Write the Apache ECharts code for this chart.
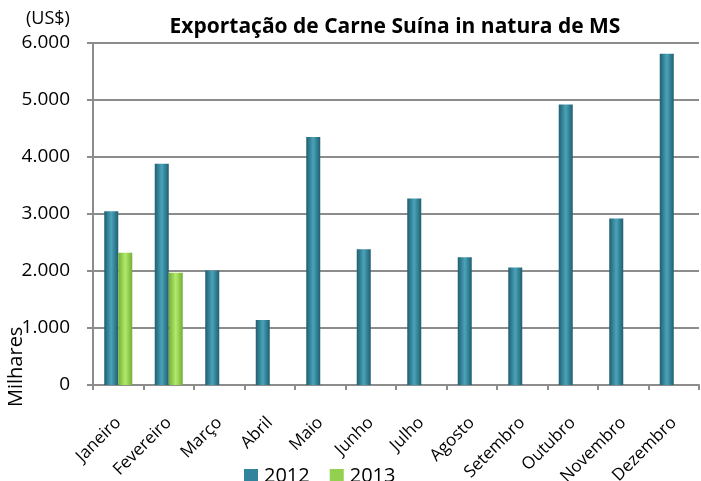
<!DOCTYPE html>
<html>
<head>
<meta charset="utf-8">
<script src="https://cdn.jsdelivr.net/npm/echarts@6/dist/echarts.min.js"></script>
<style>
  html, body { margin: 0; padding: 0; background: #fff; }
  #chart { width: 701px; height: 481px; }
</style>
</head>
<body>
<div id="chart"></div>
<script>
// meses
const months = ["Janeiro", "Fevereiro", "Março", "Abril", "Maio", "Junho",
  "Julho", "Agosto", "Setembro", "Outubro", "Novembro", "Dezembro"];
// valores em milhares de US$
const exp2012 = [3050, 3880, 2010, 1140, 4350, 2380, 3270, 2240, 2060, 4920, 2920, 5810];
const exp2013 = [2320, 1970, null, null, null, null, null, null, null, null, null, null];
const yTicks = [0, 1000, 2000, 3000, 4000, 5000, 6000];

const font = "'Open Sans', 'DejaVu Sans', sans-serif";

function fmt(v) {
  return v === 0 ? "0" : (v / 1000).toFixed(3);
}

// efeito cilindro nas barras
function tube(edge, mid) {
  return new echarts.graphic.LinearGradient(0, 0, 1, 0, [
    { offset: 0, color: edge },
    { offset: 0.5, color: mid },
    { offset: 1, color: edge }
  ]);
}

const chart = echarts.init(document.getElementById("chart"));
chart.setOption({
  animation: false,
  textStyle: { fontFamily: font },
  title: {
    text: "Exportação de Carne Suína in natura de MS",
    left: 390,
    top: 12,
    textAlign: "center",
    textStyle: { fontSize: 21, fontWeight: "bold", color: "#000", fontFamily: font }
  },
  legend: {
    top: 461,
    left: 239,
    itemWidth: 14,
    itemHeight: 14,
    itemGap: 20,
    icon: "rect",
    textStyle: { fontSize: 20, color: "#000", padding: [0, 0, 0, 1] },
    data: [
      { name: "2012", itemStyle: { color: "#31849B" } },
      { name: "2013", itemStyle: { color: "#92D050" } }
    ]
  },
  grid: { left: 93, right: 2, top: 43, bottom: 96, containLabel: false, outerBoundsMode: "none" },
  xAxis: {
    type: "category",
    data: months,
    axisLine: { lineStyle: { color: "#8c8c8c", width: 2 } },
    axisTick: { show: true, length: 5, lineStyle: { color: "#8c8c8c", width: 2 } },
    axisLabel: { rotate: 45, fontSize: 17, color: "#000", margin: 35, interval: 0 }
  },
  yAxis: {
    type: "value",
    min: 0,
    max: 6000,
    interval: 1000,
    axisLine: { show: true, lineStyle: { color: "#8c8c8c", width: 2 } },
    axisTick: { show: true, length: 6, lineStyle: { color: "#8c8c8c", width: 2 } },
    splitLine: { lineStyle: { color: "#8c8c8c", width: 2 } },
    axisLabel: {
      fontSize: 19, color: "#000", margin: 23,
      formatter: (v) => yTicks.includes(v) ? fmt(v) : ""
    }
  },
  series: [
    {
      name: "2012",
      type: "bar",
      data: exp2012,
      barWidth: 14,
      barGap: "0%",
      itemStyle: { color: tube("#1E5F70", "#4AA3BA") }
    },
    {
      name: "2013",
      type: "bar",
      data: exp2013,
      barWidth: 14,
      barGap: "0%",
      itemStyle: { color: tube("#74AE35", "#B2EA6A") }
    }
  ],
  graphic: [
    {
      type: "text",
      left: 26,
      top: 10,
      style: { text: "(US$)", fontSize: 18, fill: "#000", fontFamily: font }
    },
    {
      type: "text",
      x: 6,
      y: 407,
      rotation: Math.PI / 2,
      style: { text: "Milhares", fontSize: 20, fill: "#000", fontFamily: font }
    }
  ]
});
</script>
</body>
</html>
